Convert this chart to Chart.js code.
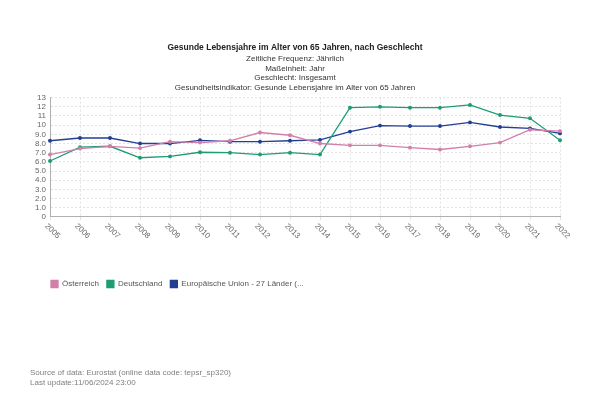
<!DOCTYPE html>
<html>
<head>
<meta charset="utf-8">
<script src="https://cdn.jsdelivr.net/npm/chart.js@4/dist/chart.umd.min.js"></script>
<style>
  body { margin: 0; background: #fff; }
  #wrap { position: relative; width: 600px; height: 400px; }
  .fuss { position: absolute; left: 30px; font: 8px "Liberation Sans", Arial, sans-serif; color: #808080; line-height: 10px; }
</style>
</head>
<body>
<div id="wrap">
  <canvas id="grafik" width="600" height="400"></canvas>
  <div class="fuss" style="top:368px">Source of data: Eurostat (online data code: tepsr_sp320)</div>
  <div class="fuss" style="top:378px">Last update:11/06/2024 23:00</div>
</div>
<script>
const jahre = ['2005','2006','2007','2008','2009','2010','2011','2012','2013','2014','2015','2016','2017','2018','2019','2020','2021','2022'];
const oesterreich = [6.8, 7.45, 7.7, 7.5, 8.2, 8.1, 8.3, 9.2, 8.9, 8.0, 7.8, 7.8, 7.55, 7.35, 7.7, 8.1, 9.5, 9.35];
const deutschland = [6.1, 7.6, 7.7, 6.45, 6.6, 7.05, 7.0, 6.8, 7.0, 6.8, 11.9, 12.0, 11.9, 11.9, 12.2, 11.1, 10.75, 8.35];
const eu27 = [8.3, 8.6, 8.6, 8.0, 8.0, 8.35, 8.2, 8.2, 8.3, 8.4, 9.3, 9.95, 9.9, 9.9, 10.3, 9.8, 9.65, 9.1];

const schrift = '"Liberation Sans", Arial, sans-serif';

const serie = (name, werte, farbe) => ({
    label: name,
    data: werte,
    borderColor: farbe,
    backgroundColor: farbe,
    borderWidth: 1.3,
    pointRadius: 1.3,
    pointHoverRadius: 3,
    tension: 0
});

// x-Beschriftung schräg nach rechts unten
const jahresLabels = {
    id: 'jahresLabels',
    afterDraw(chart) {
        const x = chart.scales.x;
        const ctx = chart.ctx;
        ctx.save();
        ctx.font = '8px ' + schrift;
        ctx.fillStyle = '#666';
        ctx.textAlign = 'left';
        ctx.textBaseline = 'top';
        x.ticks.forEach((t, i) => {
            ctx.save();
            ctx.translate(x.getPixelForTick(i) - 1, x.top + 5);
            ctx.rotate(Math.PI / 4);
            ctx.fillText(jahre[i], 0, 0);
            ctx.restore();
        });
        ctx.restore();
    }
};

const legendeVerschieben = {
    id: 'legendeVerschieben',
    afterLayout(chart) {
        chart.legend.left += 13;
        chart.legend.right += 13;
    }
};

new Chart(document.getElementById('grafik'), {
    type: 'line',
    data: {
        labels: jahre,
        datasets: [
            serie('Österreich', oesterreich, '#d27fa9'),
            serie('Deutschland', deutschland, '#1e9c74'),
            serie('Europäische Union - 27 Länder (...', eu27, '#223f94')
        ]
    },
    options: {
        responsive: false,
        animation: false,
        layout: { padding: { left: 30, right: 40, top: 0, bottom: 102 } },
        plugins: {
            title: {
                display: true,
                text: 'Gesunde Lebensjahre im Alter von 65 Jahren, nach Geschlecht',
                color: '#222',
                font: { family: schrift, size: 8.5, weight: 'bold' },
                padding: { top: 43, bottom: 1 }
            },
            subtitle: {
                display: true,
                text: ['Zeitliche Frequenz: Jährlich', 'Maßeinheit: Jahr', 'Geschlecht: Insgesamt', 'Gesundheitsindikator: Gesunde Lebensjahre im Alter von 65 Jahren'],
                color: '#333',
                font: { family: schrift, size: 8, lineHeight: 1.2 },
                padding: { top: 0, bottom: 5 }
            },
            legend: {
                position: 'bottom',
                align: 'start',
                labels: {
                    boxWidth: 7,
                    boxHeight: 7,
                    padding: 8,
                    color: '#555',
                    font: { family: schrift, size: 8 }
                }
            }
        },
        scales: {
            x: {
                ticks: { display: false },
                grid: { color: '#e2e2e2', tickLength: 3 },
                border: { color: '#b0b0b0', dash: [2, 2] },
                afterFit: (s) => { s.height = 55; }
            },
            y: {
                min: 0,
                max: 13,
                ticks: {
                    stepSize: 1,
                    autoSkip: false,
                    padding: 4,
                    color: '#666',
                    font: { family: schrift, size: 8 },
                    callback: (v) => v === 0 ? '0' : (v >= 10 ? String(v) : v.toFixed(1))
                },
                grid: { color: '#e2e2e2', tickLength: 0 },
                border: { color: '#b0b0b0', dash: [2, 2] },
                afterFit: (s) => { s.width = 20; }
            }
        }
    },
    plugins: [jahresLabels, legendeVerschieben]
});
</script>
</body>
</html>
